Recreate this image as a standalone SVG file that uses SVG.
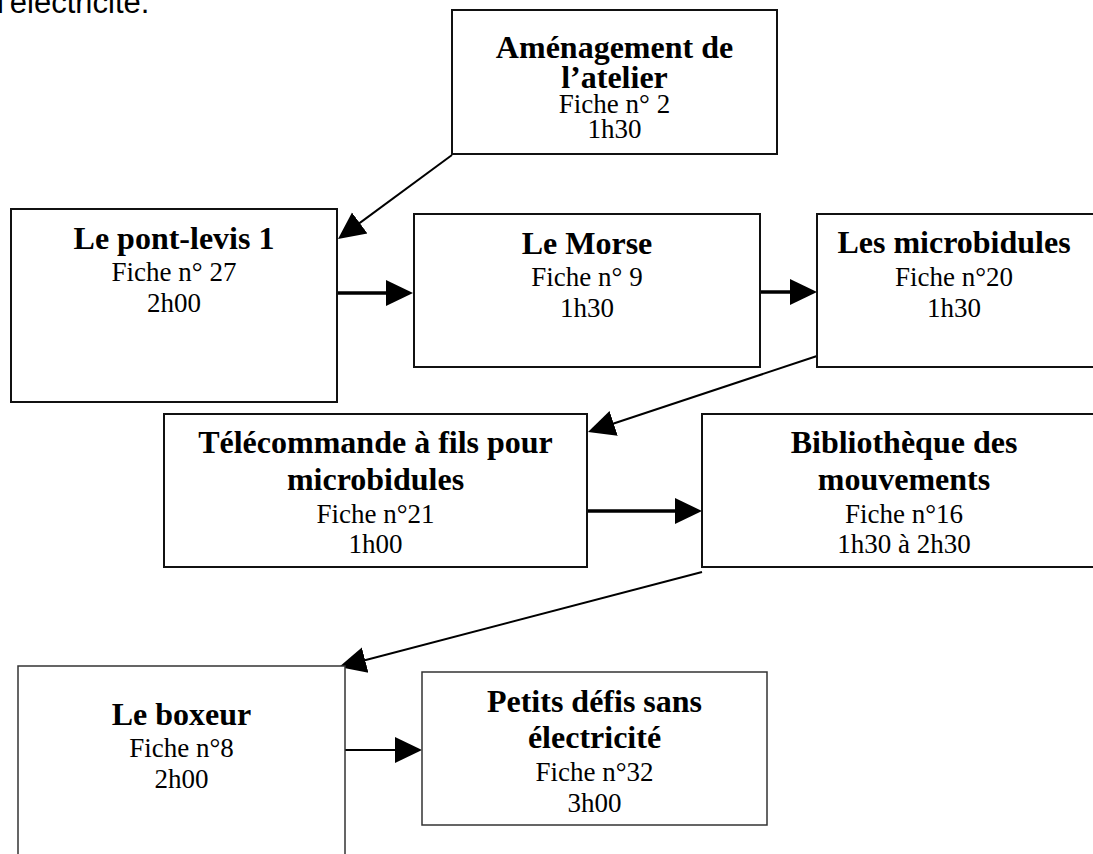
<svg xmlns="http://www.w3.org/2000/svg" width="1093" height="854" viewBox="0 0 1093 854">
<style>
  .box { fill: #fff; stroke: #111; stroke-width: 2; }
  .thin { fill: #fff; stroke: #333; stroke-width: 1.5; }
  .t { font-family: "Liberation Serif", "Times New Roman", serif; fill: #000; text-anchor: middle; }
  .b { font-weight: bold; font-size: 32px; }
  .n { font-size: 27px; }
  .c { stroke: #000; fill: none; }
  .w3 { stroke-width: 3.3; }
  .w2 { stroke-width: 2; }
</style>
<defs>
  <marker id="ah" markerUnits="userSpaceOnUse" markerWidth="28" markerHeight="28" refX="23" refY="13" orient="auto" viewBox="0 0 28 26">
    <path d="M0,0 L27,13 L0,26 z" fill="#000"/>
  </marker>
</defs>
<rect width="1093" height="854" fill="#fff"/>
<text x="-3" y="13" font-family="Liberation Sans, Arial, sans-serif" font-size="31" fill="#000">l'électricité.</text>

<g id="connectors">
  <line class="c w2" x1="452" y1="155" x2="341.2" y2="236.6" marker-end="url(#ah)"/>
  <line class="c w3" x1="338" y1="293" x2="409" y2="293" marker-end="url(#ah)"/>
  <line class="c w3" x1="761" y1="292" x2="813" y2="292" marker-end="url(#ah)"/>
  <line class="c w2" x1="817" y1="356" x2="591.8" y2="430.7" marker-end="url(#ah)"/>
  <line class="c w3" x1="588" y1="511" x2="698" y2="511" marker-end="url(#ah)"/>
  <line class="c w2" x1="702" y1="572" x2="342.9" y2="666" marker-end="url(#ah)"/>
  <line class="c w2" x1="345" y1="750" x2="418" y2="750" marker-end="url(#ah)"/>
</g>

<g id="amenagement">
  <rect class="box" x="452" y="10" width="325" height="144"/>
  <text class="t b" x="614.5" y="58">Aménagement de</text>
  <text class="t b" x="614.5" y="88">l’atelier</text>
  <text class="t n" x="614.5" y="113">Fiche n° 2</text>
  <text class="t n" x="614.5" y="138">1h30</text>
</g>

<g id="pontlevis">
  <rect class="box" x="11" y="209" width="326" height="193"/>
  <text class="t b" x="174" y="249">Le pont-levis 1</text>
  <text class="t n" x="174" y="281">Fiche n° 27</text>
  <text class="t n" x="174" y="312">2h00</text>
</g>

<g id="morse">
  <rect class="box" x="414" y="214" width="346" height="153"/>
  <text class="t b" x="587" y="254">Le Morse</text>
  <text class="t n" x="587" y="286">Fiche n° 9</text>
  <text class="t n" x="587" y="317">1h30</text>
</g>

<g id="microbidules">
  <rect class="box" x="817" y="214" width="290" height="153"/>
  <text class="t b" x="954" y="253">Les microbidules</text>
  <text class="t n" x="954" y="286">Fiche n°20</text>
  <text class="t n" x="954" y="317">1h30</text>
</g>

<g id="telecommande">
  <rect class="box" x="164" y="414" width="423" height="153"/>
  <text class="t b" x="375.5" y="453">Télécommande à fils pour</text>
  <text class="t b" x="375.5" y="490">microbidules</text>
  <text class="t n" x="375.5" y="523">Fiche n°21</text>
  <text class="t n" x="375.5" y="553">1h00</text>
</g>

<g id="bibliotheque">
  <rect class="box" x="702" y="414" width="410" height="153"/>
  <text class="t b" x="904" y="453">Bibliothèque des</text>
  <text class="t b" x="904" y="490">mouvements</text>
  <text class="t n" x="904" y="523">Fiche n°16</text>
  <text class="t n" x="904" y="553">1h30 à 2h30</text>
</g>

<g id="boxeur">
  <rect class="thin" x="18" y="666" width="327" height="220"/>
  <text class="t b" x="181.5" y="725">Le boxeur</text>
  <text class="t n" x="181.5" y="757">Fiche n°8</text>
  <text class="t n" x="181.5" y="788">2h00</text>
</g>

<g id="petitsdefis">
  <rect class="thin" x="422" y="672" width="345" height="153"/>
  <text class="t b" x="594.5" y="712">Petits défis sans</text>
  <text class="t b" x="594.5" y="748">électricité</text>
  <text class="t n" x="594.5" y="781">Fiche n°32</text>
  <text class="t n" x="594.5" y="812">3h00</text>
</g>
</svg>
